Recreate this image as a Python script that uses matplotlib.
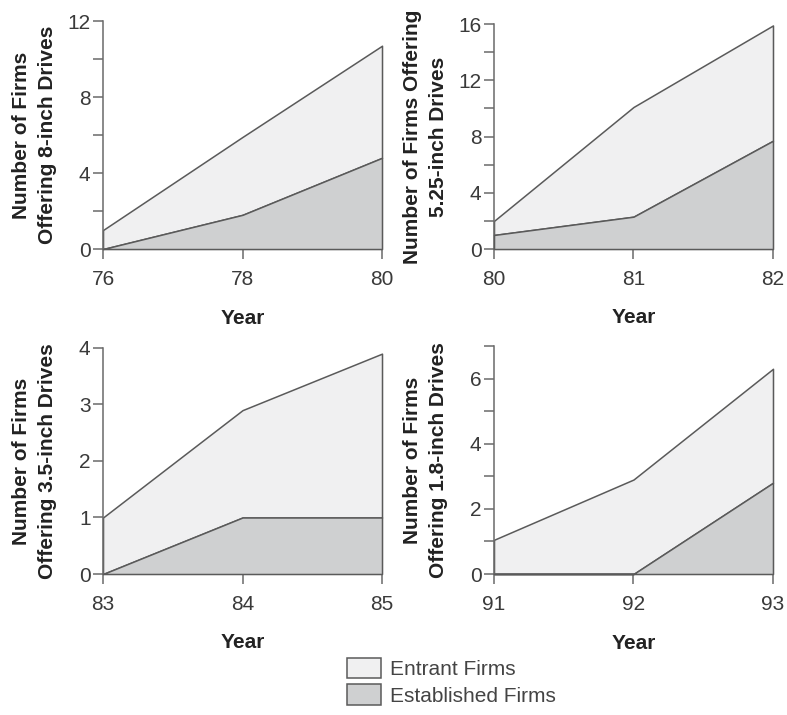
import numpy as np
import matplotlib
matplotlib.use('Agg')
import matplotlib.pyplot as plt
from matplotlib.patches import Patch
from matplotlib.ticker import MultipleLocator

plt.rcParams['font.family'] = ['Liberation Sans', 'DejaVu Sans']

# year ticks and firm counts
years_8 = [76, 78, 80]
established_8 = [0.0, 1.8, 4.8]
entrant_8 = [1.0, 4.1, 5.9]

years_525 = [80, 81, 82]
established_525 = [1.0, 2.3, 7.7]
entrant_525 = [1.0, 7.8, 8.2]

years_35 = [83, 84, 85]
established_35 = [0.0, 1.0, 1.0]
entrant_35 = [1.0, 1.9, 2.9]

years_18 = [91, 92, 93]
established_18 = [0.0, 0.0, 2.8]
entrant_18 = [1.05, 2.9, 3.5]

ylabels = ['Number of Firms\nOffering 8-inch Drives',
           'Number of Firms Offering\n5.25-inch Drives',
           'Number of Firms\nOffering 3.5-inch Drives',
           'Number of Firms\nOffering 1.8-inch Drives']

light = '#f0f0f1'
mid = '#cfd0d1'
edge = '#5a5a5a'
axcol = '#6a6a6a'

panels = [
    (years_8, established_8, entrant_8, 12, 4, 2, [0.1309, 0.6517, 0.3545, 0.3189]),
    (years_525, established_525, entrant_525, 16, 4, 2, [0.6277, 0.6517, 0.3545, 0.3147]),
    (years_35, established_35, entrant_35, 4, 1, None, [0.1309, 0.1972, 0.3545, 0.3161]),
    (years_18, established_18, entrant_18, 7, 2, 1, [0.6277, 0.1972, 0.3545, 0.3189]),
]

fig = plt.figure(figsize=(7.87, 7.15), dpi=100)

for (yrs, est, ent, ytop, major, minor, rect), lab in zip(panels, ylabels):
    ax = fig.add_axes(rect)
    x = np.array(yrs)
    est = np.array(est)
    total = est + np.array(ent)
    ax.fill_between(x, est, total, facecolor=light, edgecolor=edge, lw=1.1, clip_on=False, zorder=2)
    ax.fill_between(x, 0, est, facecolor=mid, edgecolor=edge, lw=1.1, clip_on=False, zorder=3)
    ax.set_xlim(x[0], x[-1])
    ax.set_ylim(0, ytop)
    ax.set_xticks(x)
    ax.set_xticklabels([str(v) for v in yrs])
    ax.yaxis.set_major_locator(MultipleLocator(major))
    if minor:
        ax.yaxis.set_minor_locator(MultipleLocator(minor))
    for s in ['top', 'right']:
        ax.spines[s].set_visible(False)
    for s in ['left', 'bottom']:
        ax.spines[s].set_color(axcol)
        ax.spines[s].set_linewidth(1.1)
    ax.tick_params(which='both', direction='out', length=7, width=1.1, color=axcol,
                   labelsize=15, labelcolor='#3a3a3a')
    ax.tick_params(axis='x', pad=8)
    ax.tick_params(axis='y', pad=2)
    ax.set_xlabel('Year', fontsize=15, fontweight='bold', color='#222222', va='top')
    ax.xaxis.set_label_coords(0.5, -0.262)
    ax.text(-0.245, 0.5, lab, transform=ax.transAxes, rotation=90, ha='center', va='center',
            multialignment='center', fontsize=15, fontweight='bold', color='#222222',
            linespacing=1.45)

handles = [Patch(facecolor=light, edgecolor=edge, lw=1.1, label='Entrant Firms'),
           Patch(facecolor=mid, edgecolor=edge, lw=1.1, label='Established Firms')]
fig.legend(handles=handles, loc='upper left', bbox_to_anchor=(330 / 787, 1 - 641 / 715),
           frameon=False, fontsize=15, handlelength=1.65, handleheight=1.15,
           labelspacing=0.25, handletextpad=0.45, labelcolor='#444444', borderpad=0.3)

fig.savefig('out.png', dpi=100)
